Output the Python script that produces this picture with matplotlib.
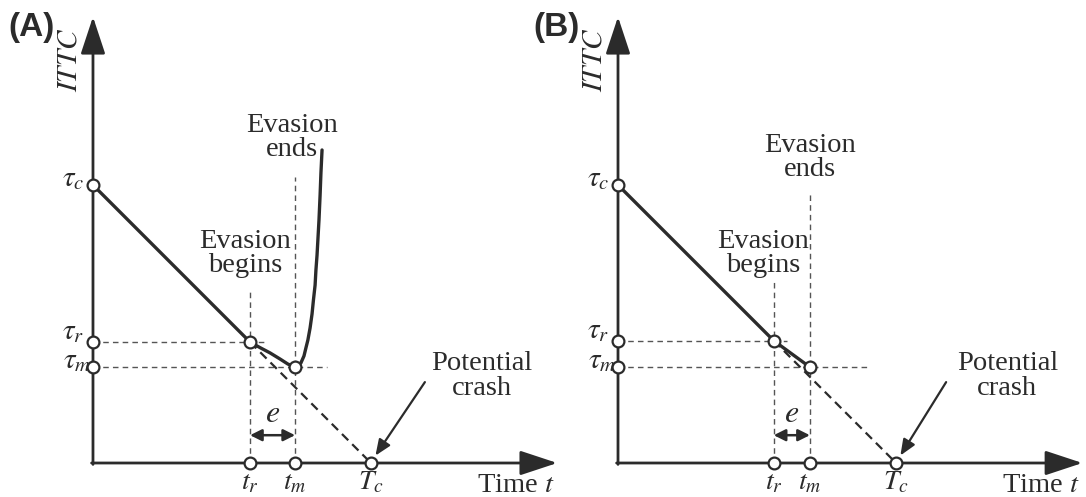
import matplotlib
matplotlib.use("Agg")
import matplotlib.pyplot as plt

plt.rcParams["mathtext.fontset"] = "stix"
plt.rcParams["font.family"] = "Liberation Serif"

# schematic values (time / ITTC units, Tc = tau_c = 10)
T_c = 10.0
tau_c = 10.0

# panel A: evasion curve
a_tr, a_tau_r = 5.65, 4.35
a_tm, a_tau_m = 7.27, 3.45
a_curve_t = [5.65, 6.01, 6.37, 6.73, 7.01, 7.27, 7.37, 7.48, 7.59, 7.66, 7.73,
             7.81, 7.88, 7.93, 7.99, 8.02, 8.06, 8.09, 8.13, 8.17, 8.20, 8.24]
a_curve_v = [4.35, 4.15, 3.96, 3.74, 3.56, 3.45, 3.47, 3.60, 3.85, 4.14, 4.42,
             4.86, 5.36, 5.86, 6.40, 6.94, 7.48, 8.02, 8.74, 9.64, 10.43, 11.26]

# panel B: evasion stops on the way down
b_tr, b_tau_r = 5.6, 4.4
b_tm, b_tau_m = 6.9, 3.45

INK = "#2b2b2b"
GREY = "#555555"

fig = plt.figure(figsize=(10.86, 4.97), dpi=100)
axA = fig.add_axes([0, 0, 560 / 1086, 1])
axB = fig.add_axes([560 / 1086, 0, 526 / 1086, 1])
axA.set_xlim(-3.345, 16.8)
axB.set_xlim(-2.086, 16.83)
for ax in (axA, axB):
    ax.set_ylim(-1.223, 16.655)
    ax.axis("off")


def circ(ax, x, y):
    ax.plot(x, y, "o", ms=8.5, mfc="white", mec=INK, mew=1.6, zorder=6)


def panel(ax, letter, tr, tau_r, tm, tau_m, end_top, beg_top, tr_h, tm_h,
          beg_xy, end_xy, crash_from, curve=None):
    # axes with arrows
    ax.annotate("", xy=(0, 16.05), xytext=(0, -0.05),
                arrowprops=dict(arrowstyle="-|>,head_length=1.15,head_width=0.38",
                                lw=2.0, color=INK, mutation_scale=20, shrinkA=0, shrinkB=0))
    ax.annotate("", xy=(16.7, 0), xytext=(-0.05, 0),
                arrowprops=dict(arrowstyle="-|>,head_length=1.15,head_width=0.38",
                                lw=2.0, color=INK, mutation_scale=20, shrinkA=0, shrinkB=0))

    # guide lines
    ax.plot([0, tr_h], [tau_r, tau_r], ls=(0, (4, 3)), lw=1.0, color=GREY)
    ax.plot([0, tm_h], [tau_m, tau_m], ls=(0, (4, 3)), lw=1.0, color=GREY)
    ax.plot([tr, tr], [0, beg_top], ls=(0, (4, 3)), lw=1.0, color=GREY)
    ax.plot([tm, tm], [0, end_top], ls=(0, (4, 3)), lw=1.0, color=GREY)

    # approach line and its continuation
    ax.plot([0, tr], [tau_c, tau_r], lw=2.4, color=INK, solid_capstyle="round")
    ax.plot([tr, T_c], [tau_r, 0], ls=(0, (4, 2.5)), lw=1.6, color=INK)
    if curve is not None:
        ax.plot(curve[0], curve[1], lw=2.4, color=INK, solid_capstyle="round",
                solid_joinstyle="round")
    else:
        ax.plot([tr, tm], [tau_r, tau_m], lw=2.4, color=INK, solid_capstyle="round")

    # points
    for x, y in [(0, tau_c), (0, tau_r), (0, tau_m), (tr, tau_r), (tm, tau_m),
                 (tr, 0), (tm, 0), (T_c, 0)]:
        circ(ax, x, y)

    # e arrow
    ax.annotate("", xy=(tm, 1.0), xytext=(tr, 1.0),
                arrowprops=dict(arrowstyle="<|-|>,head_length=0.5,head_width=0.25",
                                lw=1.8, color=INK, mutation_scale=14, shrinkA=0, shrinkB=0))
    ax.text((tr + tm) / 2, 1.75, "$e$", fontsize=23, ha="center", va="center", color=INK)

    # labels
    fs = 20.5
    ms = 21
    ax.text(-0.3, tau_c + 0.2, r"$\tau_c$", fontsize=ms, ha="right", va="center", color=INK)
    ax.text(-0.3, tau_r + 0.35, r"$\tau_r$", fontsize=ms, ha="right", va="center", color=INK)
    ax.text(-0.05, tau_m + 0.2, r"$\tau_m$", fontsize=ms, ha="right", va="center", color=INK)
    ax.text(tr, -0.72, r"$t_r$", fontsize=20, ha="center", va="center", color=INK)
    ax.text(tm, -0.72, r"$t_m$", fontsize=20, ha="center", va="center", color=INK)
    ax.text(T_c, -0.72, r"$T_c$", fontsize=20, ha="center", va="center", color=INK)
    ax.text(16.6, -0.8, "Time $t$", fontsize=fs, ha="right", va="center", color=INK)
    ax.text(-0.83, 14.5, "$ITTC$", fontsize=ms, rotation=90, ha="center", va="center", color=INK)

    ax.text(beg_xy[0], beg_xy[1], "Evasion\nbegins", fontsize=fs, ha="center",
            va="center", linespacing=0.95, color=INK)
    ax.text(end_xy[0], end_xy[1], "Evasion\nends", fontsize=fs, ha="center",
            va="center", linespacing=0.95, color=INK)
    ax.text(14.0, 3.13, "Potential\ncrash", fontsize=fs, ha="center",
            va="center", linespacing=0.95, color=INK)
    ax.annotate("", xy=(T_c + 0.05, 0.1), xytext=crash_from,
                arrowprops=dict(arrowstyle="-|>,head_length=0.6,head_width=0.25",
                                lw=1.6, color=INK, mutation_scale=16, shrinkA=0, shrinkB=4))

    ax.text(-3.05, 15.65, letter, fontsize=24, fontweight="bold",
            family="Liberation Sans", ha="left", va="center", color=INK)


panel(axA, "(A)", a_tr, a_tau_r, a_tm, a_tau_m, end_top=10.3, beg_top=6.2,
      tr_h=6.26, tm_h=8.42, beg_xy=(5.47, 7.55), end_xy=(7.16, 11.7),
      crash_from=(11.94, 2.91), curve=(a_curve_t, a_curve_v))
panel(axB, "(B)", b_tr, b_tau_r, b_tm, b_tau_m, end_top=9.7, beg_top=6.5,
      tr_h=6.08, tm_h=9.06, beg_xy=(5.22, 7.55), end_xy=(6.9, 11.0),
      crash_from=(11.8, 2.91))

fig.savefig("out.png", dpi=100)
